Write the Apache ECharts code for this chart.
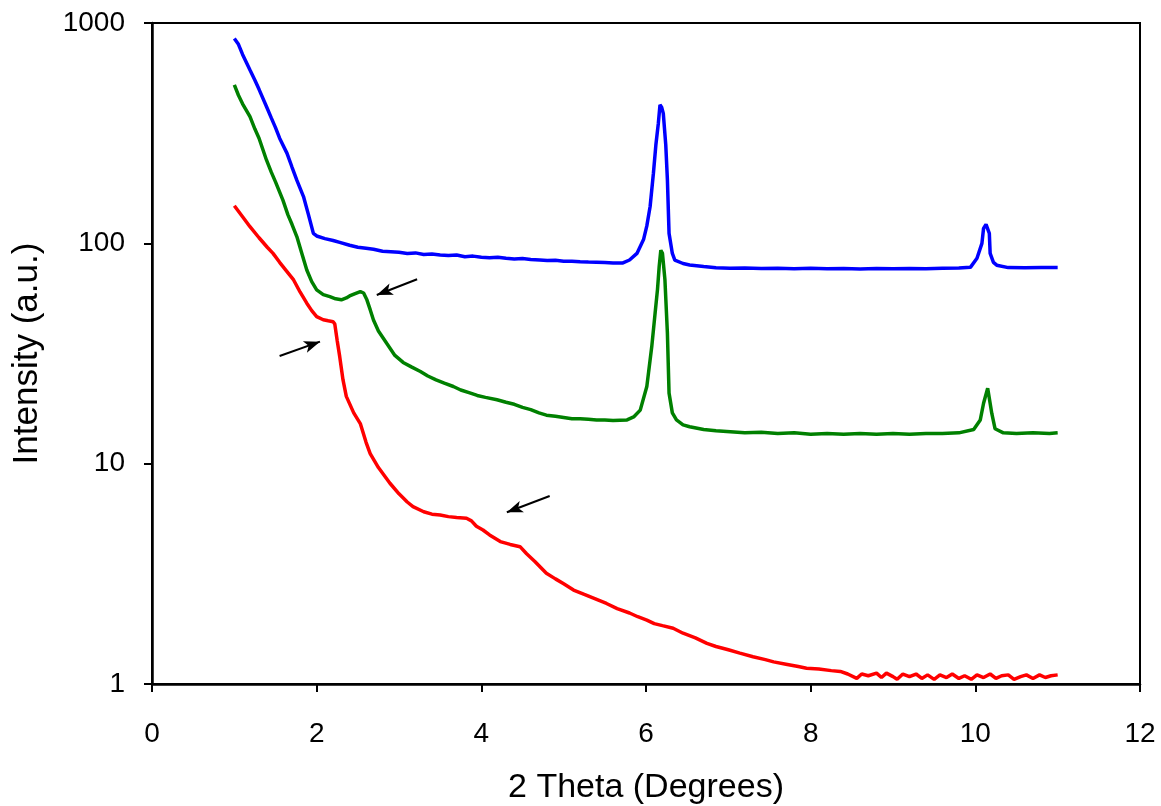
<!DOCTYPE html>
<html>
<head>
<meta charset="utf-8">
<script src="https://cdn.jsdelivr.net/npm/echarts@6/dist/echarts.min.js"></script>
<style>
html,body{margin:0;padding:0;background:#fff;}
#chart{width:1161px;height:806px;}
</style>
</head>
<body>
<div id="chart"></div>
<script>
// ---- Data ----
const xTicks = [0, 2, 4, 6, 8, 10, 12];
const yTicks = [1, 10, 100, 1000];

const blueTheta = [1.00,1.05,1.10,1.19,1.25,1.30,1.39,1.45,1.50,1.55,1.64,1.70,1.76,1.84,1.90,1.96,2.00,2.10,2.20,2.28,2.40,2.50,2.60,2.69,2.80,2.90,3.00,3.10,3.20,3.30,3.40,3.50,3.60,3.70,3.80,3.90,4.00,4.10,4.20,4.30,4.40,4.50,4.60,4.71,4.80,4.90,5.00,5.10,5.20,5.30,5.40,5.50,5.60,5.72,5.80,5.89,5.97,6.01,6.05,6.09,6.12,6.15,6.17,6.19,6.21,6.24,6.26,6.28,6.32,6.35,6.45,6.53,6.70,6.85,7.02,7.20,7.40,7.60,7.80,8.00,8.20,8.40,8.60,8.80,9.00,9.20,9.40,9.60,9.80,9.94,10.02,10.08,10.10,10.13,10.15,10.17,10.18,10.22,10.26,10.40,10.60,10.80,11.00];
const blueIntensity = [850,800,720,612,550,500,418,370,335,300,256,222,193,163,135,111,108,105,103,101,98,96,95,94,92,91.5,91,90,90.5,89,89.5,88.6,88,88.5,87,87.5,86.5,86,86.5,85.5,85,85.3,84.5,84,83.5,83.8,83,83,82.5,82.2,82,81.8,81.5,81.5,84,90,104,120,147,208,280,351,425,415,389,280,194,111,90,84,81,79.8,78.5,77.5,77,77.2,76.8,77,76.7,77,76.6,76.9,76.5,76.8,76.6,76.9,76.7,77,77.2,77.8,85.5,100,117,122,120,111,90,82,79.6,77.6,77.5,77.6,77.6];

const greenTheta = [1.00,1.05,1.10,1.19,1.25,1.30,1.39,1.45,1.50,1.59,1.65,1.70,1.76,1.82,1.88,1.94,2.00,2.08,2.16,2.23,2.30,2.36,2.40,2.46,2.53,2.57,2.61,2.65,2.69,2.75,2.85,2.95,3.05,3.15,3.26,3.35,3.45,3.55,3.66,3.75,3.85,3.95,4.05,4.19,4.30,4.40,4.50,4.60,4.70,4.79,4.90,5.00,5.10,5.20,5.30,5.40,5.50,5.60,5.77,5.85,5.93,6.01,6.07,6.11,6.14,6.16,6.18,6.20,6.23,6.26,6.28,6.32,6.37,6.45,6.53,6.70,6.85,6.98,7.20,7.40,7.60,7.80,8.00,8.20,8.40,8.60,8.80,9.00,9.20,9.40,9.60,9.80,9.98,10.06,10.10,10.15,10.20,10.24,10.34,10.50,10.70,10.90,11.00];
const greenIntensity = [524,470,430,376,330,300,239,210,190,157,135,122,107,90,75.7,67,61.5,58.5,57.3,56,55.4,56.5,57.7,59,60.4,59.5,55.4,50,44.9,40,35.2,31,28.8,27.5,26.2,25,24,23.2,22.4,21.6,21,20.4,20,19.5,19,18.6,18,17.6,17,16.6,16.4,16.2,16,16,15.9,15.8,15.8,15.7,15.8,16.3,17.5,22.4,34,48,62,78.4,93,90,68.2,39,20.9,17,15.8,15,14.7,14.3,14.1,14.0,13.8,13.9,13.7,13.8,13.6,13.7,13.6,13.7,13.6,13.7,13.6,13.7,13.7,13.8,14.3,15.8,18.8,22,16.9,14.4,13.8,13.7,13.8,13.7,13.8];

const redTheta = [1.00,1.10,1.19,1.30,1.40,1.47,1.55,1.62,1.72,1.80,1.88,1.94,2.00,2.08,2.14,2.20,2.22,2.25,2.28,2.32,2.36,2.45,2.53,2.60,2.65,2.75,2.89,3.00,3.10,3.17,3.30,3.40,3.50,3.60,3.70,3.82,3.88,3.94,4.02,4.10,4.23,4.35,4.47,4.55,4.65,4.79,4.90,5.00,5.12,5.25,5.40,5.52,5.65,5.80,5.90,6.01,6.10,6.20,6.33,6.45,6.60,6.74,6.85,7.00,7.14,7.30,7.45,7.55,7.70,7.85,7.95,8.10,8.25,8.36,8.45,8.56,8.62,8.70,8.80,8.86,8.92,9.00,9.05,9.12,9.20,9.28,9.35,9.42,9.50,9.57,9.65,9.72,9.80,9.87,9.95,10.02,10.10,10.18,10.25,10.32,10.40,10.47,10.55,10.62,10.70,10.78,10.85,10.92,11.00];
const redIntensity = [148,132,119,106,96,90,82,76,68.2,60,53.5,49.5,46.5,45,44.5,44.1,43,36,30.6,24,20.2,17,15.2,12.5,11.1,9.6,8.15,7.3,6.7,6.38,6.05,5.9,5.85,5.75,5.7,5.65,5.5,5.2,5.0,4.75,4.43,4.3,4.2,3.9,3.6,3.18,3.0,2.85,2.67,2.55,2.42,2.32,2.2,2.1,2.02,1.95,1.88,1.84,1.79,1.7,1.62,1.53,1.48,1.43,1.38,1.33,1.29,1.26,1.23,1.2,1.18,1.17,1.15,1.14,1.11,1.06,1.11,1.09,1.12,1.07,1.12,1.08,1.05,1.11,1.08,1.11,1.06,1.1,1.05,1.1,1.07,1.11,1.06,1.09,1.05,1.1,1.07,1.11,1.06,1.09,1.1,1.05,1.08,1.1,1.06,1.1,1.07,1.09,1.1];

// Arrow annotations: [tailTheta, tailIntensity, headTheta, headIntensity]
const arrowGreen = [3.22, 68.7, 2.73, 58.3];
const arrowRed1 = [1.55, 30.8, 2.04, 35.8];
const arrowRed2 = [4.83, 7.13, 4.31, 6.02];

function pairs(xs, ys) { return xs.map((x, i) => [x, ys[i]]); }
function arrow(a) {
  return [{ coord: [a[0], a[1]], symbol: 'none' }, { coord: [a[2], a[3]], symbol: 'arrow' }];
}

const FONT = 'Liberation Sans, Arial, sans-serif';
const chart = echarts.init(document.getElementById('chart'), null, { renderer: 'canvas' });

const arrowMark = (list) => ({
  silent: true,
  symbol: ['none', 'arrow'],
  symbolSize: [9, 16],
  label: { show: false },
  lineStyle: { color: '#000', width: 2, type: 'solid' },
  emphasis: { disabled: true },
  animation: false,
  data: list.map(arrow)
});

chart.setOption({
  animation: false,
  backgroundColor: '#ffffff',
  grid: {
    left: 152, right: 21, top: 23, bottom: 122,
    containLabel: false, outerBoundsMode: 'none',
    show: true, borderColor: '#000', borderWidth: 2, backgroundColor: 'transparent'
  },
  xAxis: {
    type: 'value', min: xTicks[0], max: xTicks[xTicks.length - 1], interval: 2,
    name: '2 Theta (Degrees)', nameLocation: 'middle', nameGap: 87,
    nameTextStyle: { fontFamily: FONT, fontSize: 34, color: '#000' },
    axisLine: { show: true, onZero: false, lineStyle: { color: '#000', width: 2.5 } },
    axisTick: { show: true, inside: false, length: 8, lineStyle: { color: '#000', width: 2 } },
    axisLabel: { fontFamily: FONT, fontSize: 28, color: '#000', margin: 36 },
    splitLine: { show: false }
  },
  yAxis: {
    type: 'log', logBase: 10, min: yTicks[0], max: yTicks[yTicks.length - 1],
    name: 'Intensity (a.u.)', nameLocation: 'middle', nameGap: 107,
    nameTextStyle: { fontFamily: FONT, fontSize: 35, color: '#000' },
    axisLine: { show: true, lineStyle: { color: '#000', width: 2.5 } },
    axisTick: { show: true, inside: false, length: 8, lineStyle: { color: '#000', width: 2 } },
    axisLabel: { fontFamily: FONT, fontSize: 28, color: '#000', margin: 27,
      formatter: (v) => String(Math.round(v)) },
    minorTick: { show: false },
    splitLine: { show: false }
  },
  series: [
    {
      name: 'blue', type: 'line', data: pairs(blueTheta, blueIntensity),
      showSymbol: false, symbol: 'none', smooth: false,
      lineStyle: { color: '#0000ff', width: 3.5 }, itemStyle: { color: '#0000ff' }
    },
    {
      name: 'green', type: 'line', data: pairs(greenTheta, greenIntensity),
      showSymbol: false, symbol: 'none',
      lineStyle: { color: '#008000', width: 3.5 }, itemStyle: { color: '#008000' },
      markLine: arrowMark([arrowGreen])
    },
    {
      name: 'red', type: 'line', data: pairs(redTheta, redIntensity),
      showSymbol: false, symbol: 'none',
      lineStyle: { color: '#ff0000', width: 3.5 }, itemStyle: { color: '#ff0000' },
      markLine: arrowMark([arrowRed1, arrowRed2])
    }
  ]
});
</script>
</body>
</html>
